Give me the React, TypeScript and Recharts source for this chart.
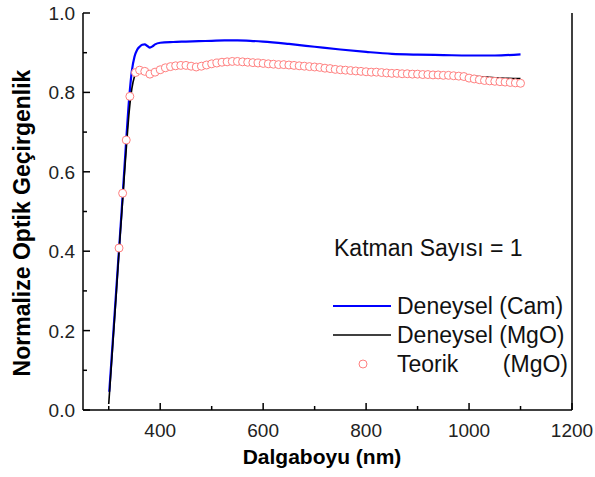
import React from 'react';
import { ComposedChart, Line, Scatter, XAxis, YAxis } from 'recharts';

// Deneysel (Cam)
const camWl = [301, 305, 310, 315, 320, 325, 330, 335, 340, 345, 350, 355, 360, 365, 370, 375, 380, 385, 390, 400, 425, 450, 475, 500, 525, 550, 575, 600, 650, 700, 750, 800, 850, 900, 950, 1000, 1050, 1100];
const camT = [0.046, 0.12, 0.215, 0.31, 0.405, 0.5, 0.6, 0.7, 0.79, 0.855, 0.89, 0.907, 0.915, 0.92, 0.921, 0.917, 0.913, 0.916, 0.921, 0.925, 0.927, 0.928, 0.929, 0.93, 0.931, 0.931, 0.93, 0.928, 0.922, 0.915, 0.908, 0.902, 0.897, 0.895, 0.894, 0.893, 0.893, 0.896];

// Deneysel (MgO)
const mgoWl = [300, 305, 310, 315, 320, 325, 330, 335, 340, 345, 350, 355, 360, 370, 380, 390, 400, 450, 500, 550, 600, 650, 700, 750, 800, 850, 900, 950, 1000, 1050, 1100];
const mgoT = [0.015, 0.11, 0.205, 0.3, 0.4, 0.49, 0.585, 0.675, 0.755, 0.81, 0.84, 0.852, 0.856, 0.852, 0.847, 0.852, 0.857, 0.866, 0.871, 0.876, 0.873, 0.869, 0.864, 0.858, 0.852, 0.848, 0.845, 0.843, 0.841, 0.837, 0.835];

// Teorik (MgO)
const teoWl = [320, 327, 334, 341, 352, 360, 370, 380, 390, 400, 410, 420, 430, 440, 450, 460, 470, 480, 490, 500, 510, 520, 530, 540, 550, 560, 570, 580, 590, 600, 610, 620, 630, 640, 650, 660, 670, 680, 690, 700, 710, 720, 730, 740, 750, 760, 770, 780, 790, 800, 810, 820, 830, 840, 850, 860, 870, 880, 890, 900, 910, 920, 930, 940, 950, 960, 970, 980, 990, 1000, 1010, 1020, 1030, 1040, 1050, 1060, 1070, 1080, 1090, 1100];
const teoT = [0.408, 0.546, 0.68, 0.79, 0.85, 0.856, 0.853, 0.846, 0.851, 0.857, 0.862, 0.865, 0.867, 0.868, 0.868, 0.866, 0.864, 0.866, 0.869, 0.872, 0.874, 0.876, 0.877, 0.878, 0.878, 0.877, 0.876, 0.875, 0.874, 0.873, 0.872, 0.871, 0.87, 0.87, 0.869, 0.868, 0.867, 0.866, 0.865, 0.864, 0.863, 0.861, 0.86, 0.858, 0.857, 0.856, 0.855, 0.854, 0.853, 0.852, 0.851, 0.851, 0.85, 0.849, 0.848, 0.848, 0.847, 0.847, 0.846, 0.846, 0.845, 0.845, 0.844, 0.844, 0.843, 0.843, 0.842, 0.841, 0.84, 0.836, 0.834, 0.832, 0.83, 0.829, 0.828, 0.827, 0.826, 0.825, 0.824, 0.823];

const xTicks = [300, 400, 500, 600, 700, 800, 900, 1000, 1100, 1200];
const yTicks = [0, 0.1, 0.2, 0.3, 0.4, 0.5, 0.6, 0.7, 0.8, 0.9, 1.0];

const toPoints = (wl: number[], t: number[]) => wl.map((x, i) => ({ x, y: t[i] }));
const camData = toPoints(camWl, camT);
const mgoData = toPoints(mgoWl, mgoT);
const teoData = toPoints(teoWl, teoT);

const FONT = '"Liberation Sans", Arial, sans-serif';
const axisLine = { stroke: '#000', strokeWidth: 1.5 };

const BottomTick = (props: any) => {
  const { x, y, payload } = props;
  const major = payload.value % 200 === 0;
  return (
    <g>
      <line x1={x} y1={y} x2={x} y2={y - (major ? 7 : 4)} stroke="#000" strokeWidth={1.5} />
      {major && (
        <text x={x} y={y + 27} textAnchor="middle" fontSize={19} fontFamily={FONT} fill="#222">
          {payload.value}
        </text>
      )}
    </g>
  );
};

const LeftTick = (props: any) => {
  const { x, y, payload } = props;
  const major = Math.round(payload.value * 10) % 2 === 0;
  return (
    <g>
      <line x1={x} y1={y} x2={x + (major ? 7 : 4)} y2={y} stroke="#000" strokeWidth={1.5} />
      {major && (
        <text x={x - 8} y={y + 7} textAnchor="end" fontSize={19} fontFamily={FONT} fill="#222">
          {payload.value.toFixed(1)}
        </text>
      )}
    </g>
  );
};

const RightTick = (props: any) => {
  const { x, y, payload } = props;
  const major = Math.round(payload.value * 10) % 2 === 0;
  return <line x1={x} y1={y} x2={x - (major ? 7 : 4)} y2={y} stroke="#000" strokeWidth={1.5} />;
};

const Circle = (props: any) => (
  <circle cx={props.cx} cy={props.cy} r={4} fill="#fff" stroke="#ff8080" strokeWidth={1} />
);

export default function App() {
  return (
    <div style={{ position: 'relative', width: 595, height: 477, background: '#fff' }}>
      <style>{`body{margin:0}`}</style>
      <ComposedChart width={595} height={477} margin={{ top: 13, right: 0, bottom: 0, left: 0 }}>
        <XAxis
          dataKey="x"
          type="number"
          domain={[250, 1200]}
          ticks={xTicks}
          interval={0}
          height={67}
          tickSize={0}
          tickMargin={0}
          tickLine={false}
          axisLine={axisLine}
          tick={<BottomTick />}
        />
        <XAxis
          xAxisId="top"
          orientation="top"
          dataKey="x"
          type="number"
          domain={[250, 1200]}
          height={0}
          tick={false}
          tickLine={false}
          axisLine={axisLine}
        />
        <YAxis
          dataKey="y"
          type="number"
          domain={[0, 1]}
          ticks={yTicks}
          interval={0}
          width={83}
          tickSize={0}
          tickMargin={0}
          tickLine={false}
          axisLine={axisLine}
          tick={<LeftTick />}
        />
        <YAxis
          yAxisId="right"
          orientation="right"
          type="number"
          domain={[0, 1]}
          ticks={yTicks}
          interval={0}
          width={23}
          tickSize={0}
          tickMargin={0}
          tickLine={false}
          axisLine={axisLine}
          tick={<RightTick />}
        />
        <Line data={camData} dataKey="y" type="monotone" stroke="#0000ff" strokeWidth={2.2} dot={false} isAnimationActive={false} />
        <Line data={mgoData} dataKey="y" type="monotone" stroke="#000" strokeWidth={1.6} dot={false} isAnimationActive={false} />
        <Scatter data={teoData} dataKey="y" shape={<Circle />} isAnimationActive={false} />
      </ComposedChart>
      <svg width={595} height={477} style={{ position: 'absolute', left: 0, top: 0, pointerEvents: 'none' }} fontFamily={FONT}>
        <text x={322} y={464} textAnchor="middle" fontSize={21} fontWeight="bold" fill="#000">
          Dalgaboyu (nm)
        </text>
        <text x={30} y={223} textAnchor="middle" fontSize={23} fontWeight="bold" fill="#000" transform="rotate(-90 30 223)">
          Normalize Optik Geçirgenlik
        </text>
        <text x={334} y={256} fontSize={23} fill="#111">Katman Sayısı = 1</text>
        <line x1={333} y1={306} x2={391} y2={306} stroke="#0000ff" strokeWidth={2.2} />
        <text x={397} y={314} fontSize={23} fill="#111">Deneysel (Cam)</text>
        <line x1={333} y1={335} x2={391} y2={335} stroke="#000" strokeWidth={1.6} />
        <text x={397} y={343} fontSize={23} fill="#111">Deneysel (MgO)</text>
        <circle cx={363} cy={364} r={4} fill="#fff" stroke="#ff8080" strokeWidth={1} />
        <text x={397} y={372} fontSize={23} fill="#111">Teorik</text>
        <text x={568} y={372} textAnchor="end" fontSize={23} fill="#111">(MgO)</text>
      </svg>
    </div>
  );
}
